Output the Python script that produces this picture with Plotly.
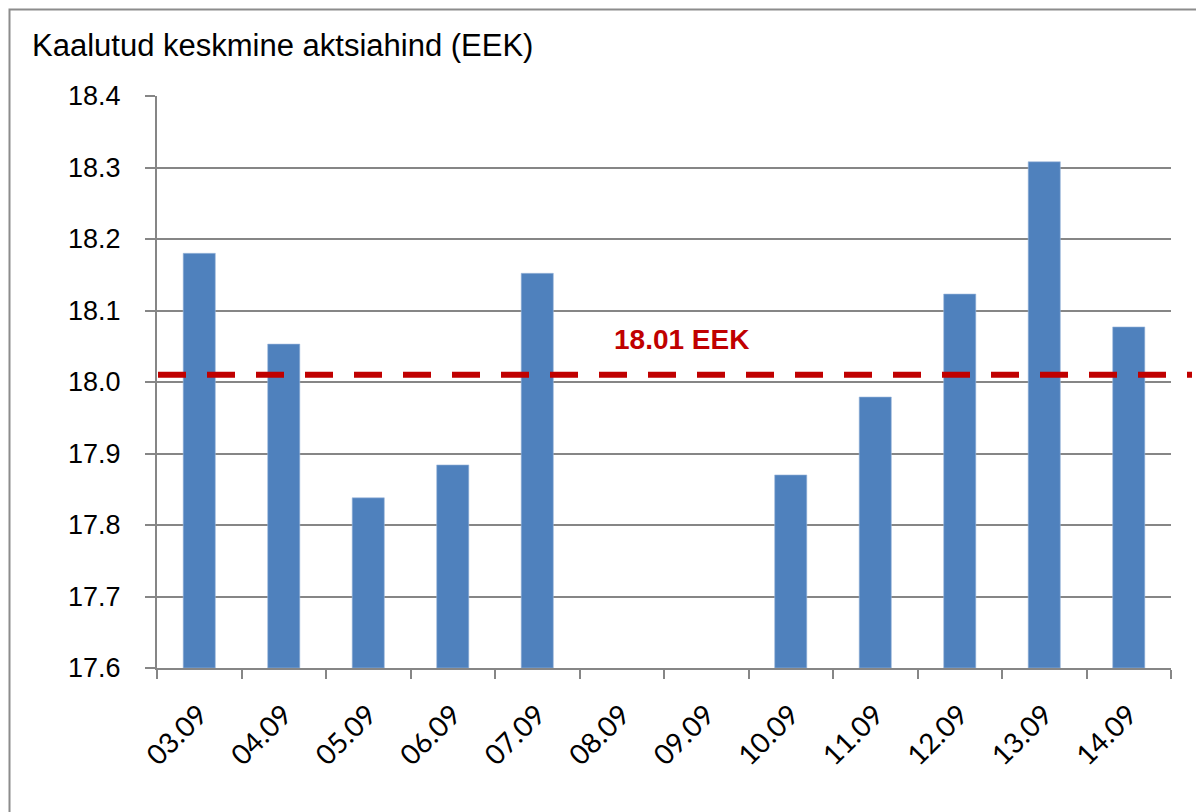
import plotly.graph_objects as go

dates = ["03.09", "04.09", "05.09", "06.09", "07.09", "08.09", "09.09",
         "10.09", "11.09", "12.09", "13.09", "14.09"]
prices = [18.18, 18.053, 17.838, 17.884, 18.152, None, None,
          17.870, 17.979, 18.123, 18.308, 18.077]
average_price = 18.01
y_ticks = [17.6, 17.7, 17.8, 17.9, 18.0, 18.1, 18.2, 18.3, 18.4]
title_text = "Kaalutud keskmine aktsiahind (EEK)"
avg_label = "18.01 EEK"

# page offset caused by default body margin
OFF = 8
W, H = 1204 - OFF, 812 - OFF
# plot area in page pixels: left 157, right 1171, top 96, bottom 668
L = 157 - OFF
T = 96 - OFF
R = W - (1171 - OFF)
B = H - (668 - OFF)
pw = W - L - R
ph = H - T - B

def px_x(p):
    return (p - OFF - L) / pw

def px_y(p):
    return (H - B - (p - OFF)) / ph

fig = go.Figure()
fig.add_trace(go.Bar(
    x=dates, y=[(v - 17.6) if v is not None else None for v in prices],
    base=17.6, width=0.38,
    marker=dict(color="#4F81BD", line=dict(color="#9DB9DC", width=0.6)),
    hoverinfo="skip",
))

fig.add_shape(type="line", xref="paper", yref="y",
              x0=px_x(158), x1=px_x(1192), y0=average_price, y1=average_price,
              line=dict(color="#C00000", width=6, dash="28px,21px"), layer="above")

# outer chart border
fig.add_shape(type="rect", xref="paper", yref="paper",
              x0=px_x(9.5), x1=px_x(1230), y0=px_y(840), y1=px_y(9.5),
              line=dict(color="#8C8C8C", width=2), layer="below")

fig.add_annotation(text=title_text, xref="paper", yref="paper",
                   x=px_x(30), y=px_y(45), xanchor="left", yanchor="middle",
                   showarrow=False,
                   font=dict(family="Liberation Sans, Arial", size=31, color="#000000"))
fig.add_annotation(text="<b>" + avg_label + "</b>", xref="paper", yref="y",
                   x=px_x(681), y=average_price, yshift=35,
                   xanchor="center", yanchor="middle", showarrow=False,
                   font=dict(family="Liberation Sans, Arial", size=28, color="#C00000"))

fig.update_layout(
    width=W, height=H,
    margin=dict(l=L, r=R, t=T, b=B, autoexpand=False),
    paper_bgcolor="white", plot_bgcolor="white",
    showlegend=False,
    xaxis=dict(type="category", categoryorder="array", categoryarray=dates,
               tickson="boundaries", ticks="outside", ticklen=9, tickwidth=2,
               tickcolor="#868686", showline=True, linecolor="#868686", linewidth=2,
               showgrid=False, tickangle=-45, ticklabelstandoff=17,
               tickfont=dict(family="Lato, Liberation Sans", size=28, color="#000000"),
               range=[-0.5, 11.5]),
    yaxis=dict(range=[17.6, 18.4], tickvals=y_ticks,
               ticktext=[f"{v:.1f}" for v in y_ticks],
               ticks="outside", ticklen=10, tickwidth=2, tickcolor="#868686",
               showline=True, linecolor="#868686", linewidth=2,
               showgrid=True, gridcolor="#868686", gridwidth=2,
               zeroline=False, ticklabelstandoff=19,
               tickfont=dict(family="Liberation Sans, Arial", size=27, color="#000000")),
)

fig.write_html("out.html")
